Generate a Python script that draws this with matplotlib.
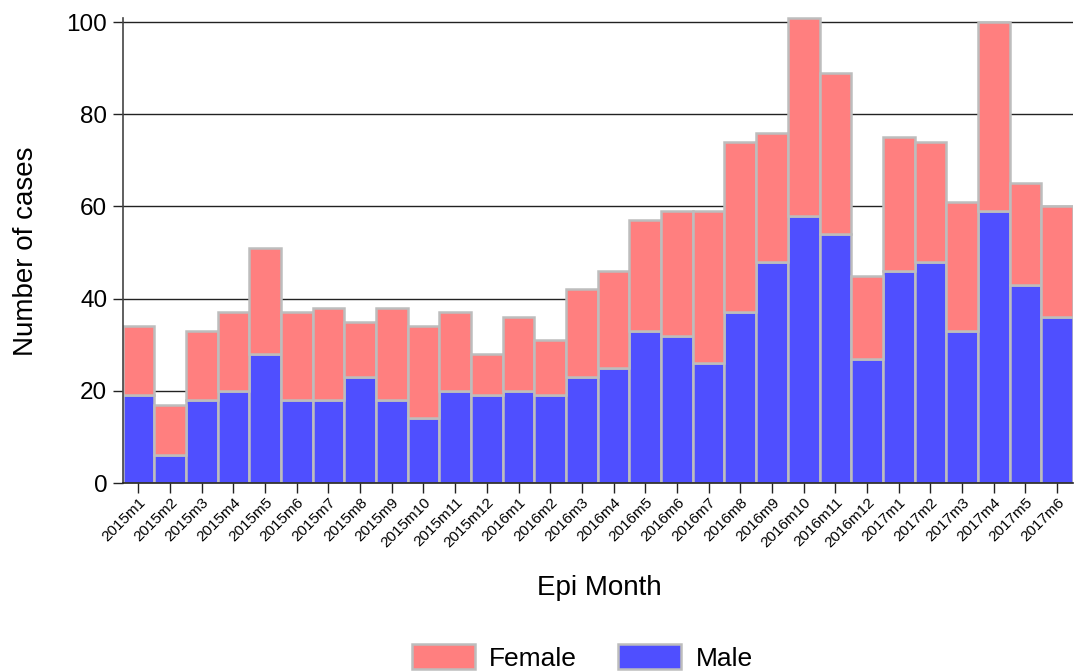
import matplotlib
matplotlib.use("Agg")
import matplotlib.pyplot as plt
import numpy as np

plt.rcParams["font.family"] = ["Liberation Sans", "DejaVu Sans"]

months = [
    "2015m1", "2015m2", "2015m3", "2015m4", "2015m5", "2015m6",
    "2015m7", "2015m8", "2015m9", "2015m10", "2015m11", "2015m12",
    "2016m1", "2016m2", "2016m3", "2016m4", "2016m5", "2016m6",
    "2016m7", "2016m8", "2016m9", "2016m10", "2016m11", "2016m12",
    "2017m1", "2017m2", "2017m3", "2017m4", "2017m5", "2017m6",
]
male = [19, 6, 18, 20, 28, 18, 18, 23, 18, 14, 20, 19,
        20, 19, 23, 25, 33, 32, 26, 37, 48, 58, 54, 27,
        46, 48, 33, 59, 43, 36]
female = [15, 11, 15, 17, 23, 19, 20, 12, 20, 20, 17, 9,
          16, 12, 19, 21, 24, 27, 33, 37, 28, 43, 35, 18,
          29, 26, 28, 41, 22, 24]

male_col = "#4f4fff"
female_col = "#ff7f7f"
edge_col = "#bdbdbd"

W, H = 1074, 671
fig = plt.figure(figsize=(W / 100, H / 100), dpi=100)
# axes placed in pixel terms: y=0 at 483px, right edge at figure edge
ax = fig.add_axes([122.5 / W, (H - 483) / H, (1073 - 122.5) / W, 483 / H])

x = np.arange(len(months))
ax.bar(x, male, width=1.0, color=male_col, edgecolor=edge_col,
       linewidth=1.8, label="Male", zorder=2)
ax.bar(x, female, width=1.0, bottom=male, color=female_col,
       edgecolor=edge_col, linewidth=1.8, label="Female", zorder=2)

ax.set_xlim(-0.5, len(months) - 0.5)
ax.set_ylim(0, 104.8)
ax.set_yticks([0, 20, 40, 60, 80, 100])
ax.grid(axis="y", color="#222222", linewidth=1.0, zorder=0)
ax.set_axisbelow(True)

for side in ["top", "right"]:
    ax.spines[side].set_visible(False)
ax.spines["left"].set_bounds(0, 100.8)
ax.spines["left"].set_color("#444444")
ax.spines["bottom"].set_color("#222222")
ax.spines["left"].set_linewidth(1.2)
ax.spines["bottom"].set_linewidth(1.2)

ax.tick_params(axis="y", length=7, width=1.0, color="#222222",
               labelsize=17.5, pad=4)
ax.tick_params(axis="x", length=7, width=1.0, color="#222222",
               labelsize=11, pad=2)
ax.set_xticks(x)
ax.set_xticklabels(months, rotation=45, ha="right", va="top",
                   rotation_mode="anchor")

ax.set_ylabel("Number of cases", fontsize=20)
ax.yaxis.set_label_coords(-0.088, 0.479)
ax.set_xlabel("Epi Month", fontsize=20)
ax.xaxis.set_label_coords(0.502, -0.19)

handles, labels = ax.get_legend_handles_labels()
fig.legend(handles[::-1], labels[::-1], loc="upper left",
           bbox_to_anchor=(411.5 / W, (H - 644) / H), ncol=2,
           frameon=False, fontsize=19, handlelength=2.4,
           handleheight=1.1, handletextpad=0.55, columnspacing=1.55,
           borderpad=0, borderaxespad=0)

fig.savefig("out.png", dpi=100)
